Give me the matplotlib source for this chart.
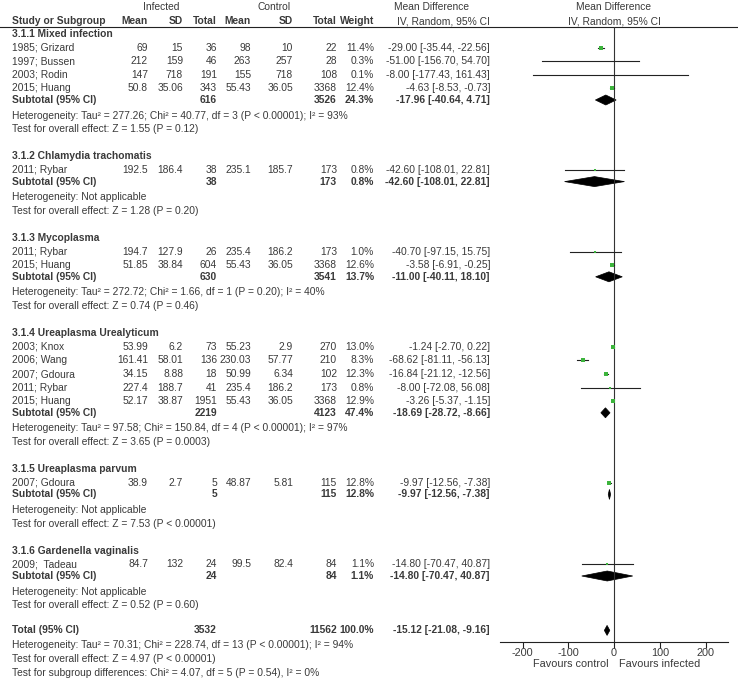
import matplotlib
matplotlib.use('Agg')
import matplotlib.pyplot as plt
from matplotlib.patches import Polygon

# subgroup labels
groups = ["3.1.1 Mixed infection", "3.1.2 Chlamydia trachomatis", "3.1.3 Mycoplasma",
          "3.1.4 Ureaplasma Urealyticum", "3.1.5 Ureaplasma parvum", "3.1.6 Gardenella vaginalis"]

# individual studies
study = ["1985; Grizard", "1997; Bussen", "2003; Rodin", "2015; Huang",
         "2011; Rybar",
         "2011; Rybar", "2015; Huang",
         "2003; Knox", "2006; Wang", "2007; Gdoura", "2011; Rybar", "2015; Huang",
         "2007; Gdoura",
         "2009;  Tadeau"]
study_group = [0, 0, 0, 0, 1, 2, 2, 3, 3, 3, 3, 3, 4, 5]
inf_mean = [69, 212, 147, 50.8, 192.5, 194.7, 51.85, 53.99, 161.41, 34.15, 227.4, 52.17, 38.9, 84.7]
inf_sd = [15, 159, 718, 35.06, 186.4, 127.9, 38.84, 6.2, 58.01, 8.88, 188.7, 38.87, 2.7, 132]
inf_n = [36, 46, 191, 343, 38, 26, 604, 73, 136, 18, 41, 1951, 5, 24]
ctl_mean = [98, 263, 155, 55.43, 235.1, 235.4, 55.43, 55.23, 230.03, 50.99, 235.4, 55.43, 48.87, 99.5]
ctl_sd = [10, 257, 718, 36.05, 185.7, 186.2, 36.05, 2.9, 57.77, 6.34, 186.2, 36.05, 5.81, 82.4]
ctl_n = [22, 28, 108, 3368, 173, 173, 3368, 270, 210, 102, 173, 3368, 115, 84]
weight = [11.4, 0.3, 0.1, 12.4, 0.8, 1.0, 12.6, 13.0, 8.3, 12.3, 0.8, 12.9, 12.8, 1.1]
md = [-29.00, -51.00, -8.00, -4.63, -42.60, -40.70, -3.58, -1.24, -68.62, -16.84, -8.00, -3.26, -9.97, -14.80]
lo = [-35.44, -156.70, -177.43, -8.53, -108.01, -97.15, -6.91, -2.70, -81.11, -21.12, -72.08, -5.37, -12.56, -70.47]
hi = [-22.56, 54.70, 161.43, -0.73, 22.81, 15.75, -0.25, 0.22, -56.13, -12.56, 56.08, -1.15, -7.38, 40.87]

# subgroup totals
sub_inf_n = [616, 38, 630, 2219, 5, 24]
sub_ctl_n = [3526, 173, 3541, 4123, 115, 84]
sub_weight = [24.3, 0.8, 13.7, 47.4, 12.8, 1.1]
sub_md = [-17.96, -42.60, -11.00, -18.69, -9.97, -14.80]
sub_lo = [-40.64, -108.01, -40.11, -28.72, -12.56, -70.47]
sub_hi = [4.71, 22.81, 18.10, -8.66, -7.38, 40.87]
sub_het = ["Heterogeneity: Tau\u00b2 = 277.26; Chi\u00b2 = 40.77, df = 3 (P < 0.00001); I\u00b2 = 93%",
           "Heterogeneity: Not applicable",
           "Heterogeneity: Tau\u00b2 = 272.72; Chi\u00b2 = 1.66, df = 1 (P = 0.20); I\u00b2 = 40%",
           "Heterogeneity: Tau\u00b2 = 97.58; Chi\u00b2 = 150.84, df = 4 (P < 0.00001); I\u00b2 = 97%",
           "Heterogeneity: Not applicable",
           "Heterogeneity: Not applicable"]
sub_test = ["Test for overall effect: Z = 1.55 (P = 0.12)",
            "Test for overall effect: Z = 1.28 (P = 0.20)",
            "Test for overall effect: Z = 0.74 (P = 0.46)",
            "Test for overall effect: Z = 3.65 (P = 0.0003)",
            "Test for overall effect: Z = 7.53 (P < 0.00001)",
            "Test for overall effect: Z = 0.52 (P = 0.60)"]

# overall
tot_inf_n = 3532
tot_ctl_n = 11562
tot_weight = 100.0
tot_md, tot_lo, tot_hi = -15.12, -21.08, -9.16
tot_lines = ["Heterogeneity: Tau\u00b2 = 70.31; Chi\u00b2 = 228.74, df = 13 (P < 0.00001); I\u00b2 = 94%",
             "Test for overall effect: Z = 4.97 (P < 0.00001)",
             "Test for subgroup differences: Chi\u00b2 = 4.07, df = 5 (P = 0.54), I\u00b2 = 0%"]

xticks = [-200, -100, 0, 100, 200]

plt.rcParams['font.family'] = ['Liberation Sans', 'DejaVu Sans']
FS = 7.4
TXT = '#3a3a3a'
GREEN = '#3cb43c'

fig = plt.figure(figsize=(7.38, 6.83), dpi=100)
bg = fig.add_axes([0, 0, 1, 1])
bg.set_xlim(0, 738)
bg.set_ylim(683, 0)
bg.axis('off')

# forest panel, 0.4575 px per unit, zero at x=614
pxu = 0.4575
ax = fig.add_axes([(614 - 250 * pxu) / 738, 41 / 683, 500 * pxu / 738, 615 / 683])
ax.set_xlim(-250, 250)
ax.set_ylim(642, 27)
ax.patch.set_alpha(0)
for s in ['top', 'left', 'right']:
    ax.spines[s].set_visible(False)
ax.spines['bottom'].set_linewidth(0.8)
ax.spines['bottom'].set_color('#222222')
ax.set_yticks([])
ax.set_xticks(xticks)
ax.set_xticklabels([str(t) for t in xticks])
ax.tick_params(axis='x', direction='out', length=4, width=0.8, color='#222222',
               labelsize=FS + 0.4, labelcolor=TXT, pad=0.5)
ax.axvline(0, color='#333333', lw=0.8)

cols = [148, 183, 217, 251, 293, 337, 374, 490]


def t(x, y, s, ha='right', bold=False, size=FS):
    bg.text(x, y, s, ha=ha, va='center', fontsize=size, color=TXT,
            fontweight='bold' if bold else 'normal')


def f(v):
    return f"{v:g}"


def ci(m, l, h):
    return f"{m:.2f} [{l:.2f}, {h:.2f}]"


def diamond(y, m, l, h):
    ax.add_patch(Polygon([(l, y), (m, y - 5), (h, y), (m, y + 5)], closed=True,
                         facecolor='black', edgecolor='black', lw=0.5))


# header
t(161, 7, "Infected", ha='center')
t(274, 7, "Control", ha='center')
t(432, 7, "Mean Difference", ha='center')
t(614, 7, "Mean Difference", ha='center')
t(12, 21, "Study or Subgroup", ha='left', bold=True)
for x, s in zip(cols[:7], ["Mean", "SD", "Total", "Mean", "SD", "Total", "Weight"]):
    t(x, 21, s, bold=True)
t(490, 21, "IV, Random, 95% CI")
t(614, 21, "IV, Random, 95% CI", ha='center')
bg.axhline(27, color='#222222', lw=0.8)

y = 34.0
step = 13.6
for g, name in enumerate(groups):
    t(12, y, name, ha='left', bold=True)
    y += step
    for i in range(len(study)):
        if study_group[i] != g:
            continue
        t(12, y, study[i], ha='left')
        vals = [f(inf_mean[i]), f(inf_sd[i]), str(inf_n[i]), f(ctl_mean[i]), f(ctl_sd[i]),
                str(ctl_n[i]), f"{weight[i]:.1f}%", ci(md[i], lo[i], hi[i])]
        for x, s in zip(cols, vals):
            t(x, y, s)
        ax.plot([lo[i], hi[i]], [y, y], color='#222222', lw=0.8)
        ax.scatter([md[i]], [y], marker='s', s=weight[i] * 0.7, color=GREEN, zorder=3, lw=0)
        y += step
    ys = y - 2
    t(12, ys, "Subtotal (95% CI)", ha='left', bold=True)
    t(cols[2], ys, str(sub_inf_n[g]), bold=True)
    t(cols[5], ys, str(sub_ctl_n[g]), bold=True)
    t(cols[6], ys, f"{sub_weight[g]:.1f}%", bold=True)
    t(cols[7], ys, ci(sub_md[g], sub_lo[g], sub_hi[g]), bold=True)
    diamond(ys, sub_md[g], sub_lo[g], sub_hi[g])
    y += step
    t(12, y, sub_het[g], ha='left')
    y += step
    t(12, y, sub_test[g], ha='left')
    y += 2 * step

y -= 2
t(12, y, "Total (95% CI)", ha='left', bold=True)
t(cols[2], y, str(tot_inf_n), bold=True)
t(cols[5], y, str(tot_ctl_n), bold=True)
t(cols[6], y, f"{tot_weight:.1f}%", bold=True)
t(cols[7], y, ci(tot_md, tot_lo, tot_hi), bold=True)
diamond(y, tot_md, tot_lo, tot_hi)
for line in tot_lines:
    y += 14.3
    t(12, y, line, ha='left')

t(609, 664, "Favours control", size=FS + 0.4)
t(619, 664, "Favours infected", ha='left', size=FS + 0.4)

fig.savefig('out.png', dpi=100)
